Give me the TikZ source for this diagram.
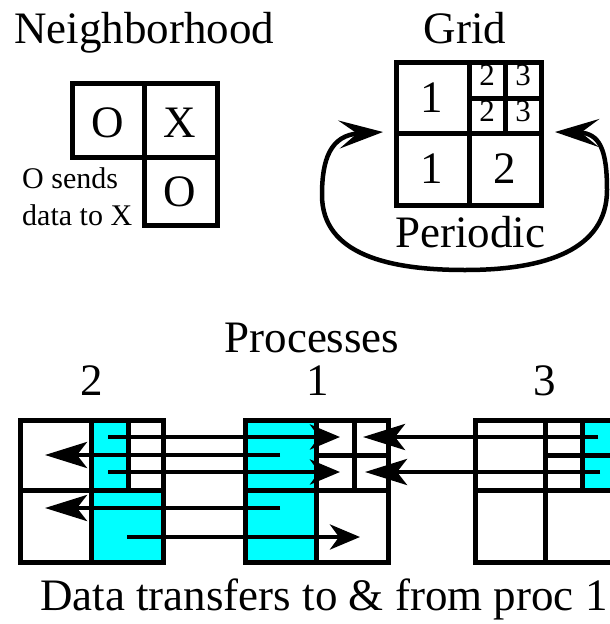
\documentclass[tikz,border=0pt]{standalone}
\usepackage{fontspec}
\setmainfont{Liberation Serif}
\usetikzlibrary{arrows.meta}
\definecolor{cy}{HTML}{00FFFF}
\begin{document}
\begin{tikzpicture}[x=1pt,y=-1pt,
  box/.style={line width=5pt, line cap=rect, line join=miter},
  big/.style={font=\fontsize{45}{48}\selectfont, inner sep=0pt},
  small/.style={font=\fontsize{30}{32}\selectfont, inner sep=0pt},
  tiny/.style={font=\fontsize{31}{32}\selectfont, inner sep=0pt},
  xfer/.style={line width=4.5pt, -{Stealth[length=30pt,width=25pt,inset=9pt]}},
  xferl/.style={line width=4.5pt, -{Stealth[length=42pt,width=26pt,inset=10pt]}},
  per/.style={line width=4.5pt, {Stealth[length=44pt,width=28pt,inset=18pt]}-{Stealth[length=44pt,width=28pt,inset=18pt]}}
]
\useasboundingbox (0,0) rectangle (610,624);
\clip (0,0) rectangle (610,624);
\fill[white] (0,0) rectangle (610,624);

% ---------- Neighborhood ----------
\node[big, anchor=base west] (tnb) at (14,43) {Neighborhood};
\draw[box] (72,83) rectangle (144,157);
\draw[box] (144,83) rectangle (217,157);
\draw[box] (144,157) rectangle (217,225);
\node[big, anchor=base] (no1) at (108,137) {O};
\node[big, anchor=base] (nx) at (180,137) {X};
\node[big, anchor=base] (no2) at (180,206) {O};
\node[small, anchor=base west] (ns1) at (22,188) {O sends};
\node[small, anchor=base west] (ns2) at (22,225) {data to X};

% ---------- Grid ----------
\node[big, anchor=base] (tgrid) at (465,43) {Grid};
\draw[box] (396,62) rectangle (541,205);
\draw[box] (469,62) -- (469,205);
\draw[box] (396,133) -- (541,133);
\draw[box] (505,62) -- (505,133);
\draw[box] (469,98) -- (541,98);
\node[big, anchor=base] (g1a) at (432,112) {1};
\node[big, anchor=base] (g1b) at (432,183) {1};
\node[big, anchor=base] (g2) at (505,183) {2};
\node[tiny, anchor=base] (s2a) at (487,85) {2};
\node[tiny, anchor=base] (s3a) at (523,85) {3};
\node[tiny, anchor=base] (s2b) at (487,121) {2};
\node[tiny, anchor=base] (s3b) at (523,121) {3};
\node[big, anchor=base] (tper) at (470,247) {Periodic};
\coordinate (pl) at (383,132);
\coordinate (pr) at (555,132);
\draw[per] (pl) .. controls (330,135) and (322,160) .. (322,195)
  .. controls (322,255) and (390,270) .. (465,270)
  .. controls (545,270) and (607,250) .. (607,190)
  .. controls (607,150) and (600,133) .. (pr);

% ---------- Processes ----------
\node[big, anchor=base] (tproc) at (312,352) {Processes};
\node[big, anchor=base] (p2) at (92,395) {2};
\node[big, anchor=base] (p1) at (318,395) {1};
\node[big, anchor=base] (p3) at (545,395) {3};

% fills
\fill[cy] (91,420) rectangle (128,490);
\fill[cy] (91,490) rectangle (163,562);
\fill[cy] (245,420) rectangle (316,562);
\fill[cy] (582,420) rectangle (618,490);

% proc 2
\draw[box] (20,420) rectangle (163,562);
\draw[box] (91,420) -- (91,562);
\draw[box] (20,490) -- (163,490);
\draw[box] (128,420) -- (128,490);
% proc 1
\draw[box] (245,420) rectangle (388,562);
\draw[box] (316,420) -- (316,562);
\draw[box] (245,490) -- (388,490);
\draw[box] (354,420) -- (354,490);
\draw[box] (316,455) -- (388,455);
% proc 3
\draw[box] (475,420) rectangle (618,562);
\draw[box] (545,420) -- (545,562);
\draw[box] (475,490) -- (618,490);
\draw[box] (582,420) -- (582,490);
\draw[box] (545,455) -- (618,455);

% transfers
\coordinate (a1s) at (108,437); \coordinate (a1e) at (340,437);
\coordinate (a2s) at (280,455); \coordinate (a2e) at (45,455);
\coordinate (a3s) at (108,472); \coordinate (a3e) at (340,472);
\coordinate (a4s) at (280,508); \coordinate (a4e) at (45,508);
\coordinate (a5s) at (127,537); \coordinate (a5e) at (360,537);
\coordinate (a6s) at (598,437); \coordinate (a6e) at (363,437);
\coordinate (a7s) at (600,472); \coordinate (a7e) at (365,472);
\draw[xfer] (a1s) -- (a1e);
\draw[xferl] (a2s) -- (a2e);
\draw[xfer] (a3s) -- (a3e);
\draw[xferl] (a4s) -- (a4e);
\draw[xfer] (a5s) -- (a5e);
\draw[xferl] (a6s) -- (a6e);
\draw[xferl] (a7s) -- (a7e);

\node[big, anchor=base west] (tdata) at (40,610) {Data transfers to \& from proc 1};
\end{tikzpicture}
\end{document}
